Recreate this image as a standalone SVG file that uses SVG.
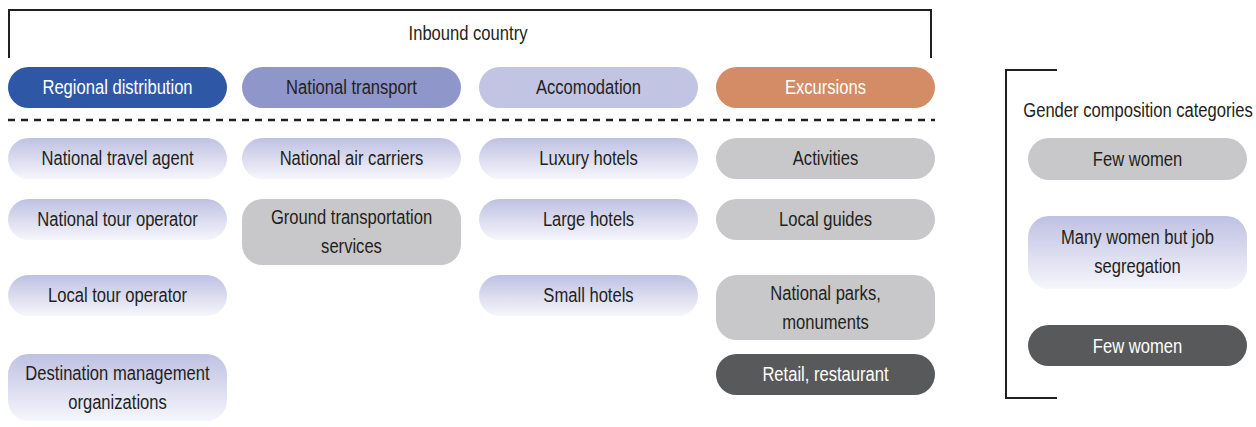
<svg xmlns="http://www.w3.org/2000/svg" width="1256" height="427" viewBox="0 0 1256 427">
<defs>
<linearGradient id="lav" x1="0" y1="0" x2="0" y2="1">
<stop offset="0" stop-color="#bfc1e2"/>
<stop offset="1" stop-color="#f6f6fc"/>
</linearGradient>
</defs>
<style>
text{font-family:"Liberation Sans",Arial,sans-serif;font-size:21px;fill:#231f20;text-anchor:middle}
.w{fill:#ffffff}
.grad{fill:url(#lav)}
.gray{fill:#c8c8ca}
.dark{fill:#58595b}
.line{fill:none;stroke:#231f20;stroke-width:2}
</style>
<rect width="1256" height="427" fill="#ffffff"/>
<g id="frame">
<polyline class="line" points="9,58 9,10 931,10 931,58"/>
<text transform="translate(468 40) scale(0.79 1)">Inbound country</text>
<line x1="8" y1="120" x2="935" y2="120" stroke="#231f20" stroke-width="2.5" stroke-dasharray="7,6"/>
</g>
<g id="h1"><rect x="8" y="67" width="219" height="41" rx="20.5" fill="#2e58a6"/><text class="w" transform="translate(117.5 94) scale(0.79 1)">Regional distribution</text></g>
<g id="h2"><rect x="242" y="67" width="219" height="41" rx="20.5" fill="#8f96c9"/><text transform="translate(351.5 94) scale(0.79 1)">National transport</text></g>
<g id="h3"><rect x="479" y="67" width="219" height="41" rx="20.5" fill="#c2c4e3"/><text transform="translate(588.5 94) scale(0.79 1)">Accomodation</text></g>
<g id="h4"><rect x="716" y="67" width="219" height="41" rx="20.5" fill="#d38c66"/><text class="w" transform="translate(825.5 94) scale(0.79 1)">Excursions</text></g>

<g id="c1r1"><rect class="grad" x="8" y="138" width="219" height="41" rx="20.5"/><text transform="translate(117.5 165) scale(0.79 1)">National travel agent</text></g>
<g id="c1r2"><rect class="grad" x="8" y="199" width="219" height="41" rx="20.5"/><text transform="translate(117.5 226) scale(0.79 1)">National tour operator</text></g>
<g id="c1r3"><rect class="grad" x="8" y="275" width="219" height="41" rx="20.5"/><text transform="translate(117.5 302) scale(0.79 1)">Local tour operator</text></g>
<g id="c1r4"><rect class="grad" x="8" y="354" width="219" height="67" rx="20.5"/><text transform="translate(117.5 380) scale(0.79 1)">Destination management</text><text transform="translate(117.5 409) scale(0.79 1)">organizations</text></g>

<g id="c2r1"><rect class="grad" x="242" y="138" width="219" height="41" rx="20.5"/><text transform="translate(351.5 165) scale(0.79 1)">National air carriers</text></g>
<g id="c2r2"><rect class="gray" x="242" y="199" width="219" height="66" rx="20.5"/><text transform="translate(351.5 224) scale(0.79 1)">Ground transportation</text><text transform="translate(351.5 253) scale(0.79 1)">services</text></g>

<g id="c3r1"><rect class="grad" x="479" y="138" width="219" height="41" rx="20.5"/><text transform="translate(588.5 165) scale(0.79 1)">Luxury hotels</text></g>
<g id="c3r2"><rect class="grad" x="479" y="199" width="219" height="41" rx="20.5"/><text transform="translate(588.5 226) scale(0.79 1)">Large hotels</text></g>
<g id="c3r3"><rect class="grad" x="479" y="275" width="219" height="41" rx="20.5"/><text transform="translate(588.5 302) scale(0.79 1)">Small hotels</text></g>

<g id="c4r1"><rect class="gray" x="716" y="138" width="219" height="41" rx="20.5"/><text transform="translate(825.5 165) scale(0.79 1)">Activities</text></g>
<g id="c4r2"><rect class="gray" x="716" y="199" width="219" height="41" rx="20.5"/><text transform="translate(825.5 226) scale(0.79 1)">Local guides</text></g>
<g id="c4r3"><rect class="gray" x="716" y="275" width="219" height="65" rx="20.5"/><text transform="translate(825.5 300) scale(0.79 1)">National parks,</text><text transform="translate(825.5 329) scale(0.79 1)">monuments</text></g>
<g id="c4r4"><rect class="dark" x="716" y="354" width="219" height="41" rx="20.5"/><text class="w" transform="translate(825.5 381) scale(0.79 1)">Retail, restaurant</text></g>

<g id="legend">
<polyline class="line" points="1057,70 1006,70 1006,398 1057,398"/>
<text transform="translate(1138 117) scale(0.79 1)">Gender composition categories</text>
<g id="l1"><rect class="gray" x="1028" y="138" width="219" height="42" rx="21"/><text transform="translate(1137.5 166) scale(0.79 1)">Few women</text></g>
<g id="l2"><rect class="grad" x="1028" y="216" width="219" height="73" rx="21"/><text transform="translate(1137.5 244) scale(0.79 1)">Many women but job</text><text transform="translate(1137.5 273) scale(0.79 1)">segregation</text></g>
<g id="l3"><rect class="dark" x="1028" y="325" width="219" height="41" rx="20.5"/><text class="w" transform="translate(1137.5 353) scale(0.79 1)">Few women</text></g>
</g>
<g id="connectors"></g>
</svg>
